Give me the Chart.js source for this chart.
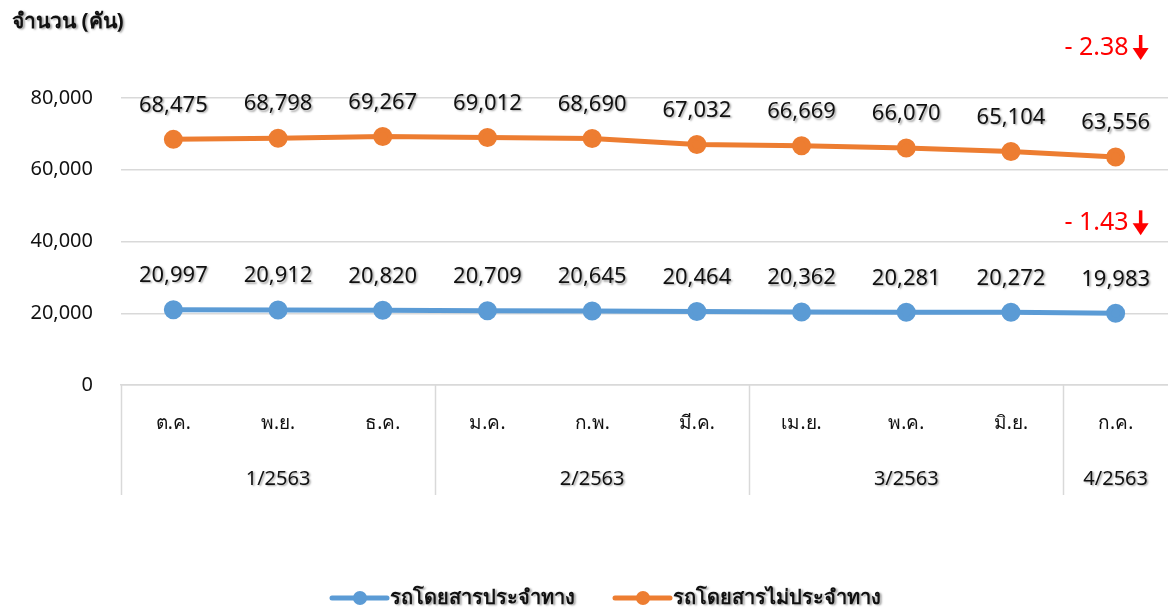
<!DOCTYPE html>
<html lang="th">
<head>
  <meta charset="UTF-8" />
  <title>จำนวนรถโดยสาร</title>
  <script src="https://cdn.jsdelivr.net/npm/chart.js"></script>
  <style>
    html, body { margin: 0; padding: 0; background: #fff; overflow: hidden; }
    #wrap { position: relative; width: 1168px; height: 612px; }
  </style>
</head>
<body>
  <div id="wrap"><canvas id="grafico"></canvas></div>

  <script>
    // datos
    const meses = ['ต.ค.', 'พ.ย.', 'ธ.ค.', 'ม.ค.', 'ก.พ.', 'มี.ค.', 'เม.ย.', 'พ.ค.', 'มิ.ย.', 'ก.ค.'];
    const trimestres = ['1/2563', '2/2563', '3/2563', '4/2563'];
    const mesesPorTrimestre = [3, 3, 3, 1];
    const series = ['รถโดยสารประจำทาง', 'รถโดยสารไม่ประจำทาง'];
    const regular = [20997, 20912, 20820, 20709, 20645, 20464, 20362, 20281, 20272, 19983];
    const noRegular = [68475, 68798, 69267, 69012, 68690, 67032, 66669, 66070, 65104, 63556];
    const cambios = ['- 1.43', '- 2.38'];
    const ejeY = { min: 0, max: 80000, paso: 20000 };
    const tituloY = 'จำนวน (คัน)';

    const fuente = "'Noto Sans', 'DejaVu Sans', sans-serif";
    const colores = ['#5b9bd5', '#ed7d31'];

    function conSombra(ctx) {
      ctx.shadowColor = 'rgba(0,0,0,0.35)';
      ctx.shadowOffsetX = 1.5;
      ctx.shadowOffsetY = 1.5;
      ctx.shadowBlur = 2;
    }

    const extras = {
      id: 'extras',
      afterDraw(chart) {
        const ctx = chart.ctx;
        const x = chart.scales.x;
        const area = chart.chartArea;

        // etiquetas de datos
        ctx.save();
        conSombra(ctx);
        ctx.fillStyle = '#111';
        ctx.font = '22px ' + fuente;
        ctx.textAlign = 'center';
        ctx.textBaseline = 'middle';
        chart.data.datasets.forEach((ds, i) => {
          const meta = chart.getDatasetMeta(i);
          meta.data.forEach((p, j) => {
            ctx.fillText(ds.data[j].toLocaleString('en-US'), p.x, p.y - 34);
          });
        });
        ctx.restore();

        // cambios en rojo
        ctx.save();
        ctx.fillStyle = '#ff0000';
        ctx.font = '25px ' + fuente;
        ctx.textAlign = 'right';
        ctx.textBaseline = 'middle';
        const desp = [-90, -109];
        chart.data.datasets.forEach((ds, i) => {
          const meta = chart.getDatasetMeta(i);
          const p = meta.data[meta.data.length - 1];
          const y = p.y + desp[i];
          ctx.fillText(cambios[i], p.x + 13, y);
          // flecha
          const ax = p.x + 25;
          ctx.strokeStyle = '#ff0000';
          ctx.lineWidth = 3.5;
          ctx.beginPath();
          ctx.moveTo(ax, y - 13);
          ctx.lineTo(ax, y + 6);
          ctx.stroke();
          ctx.beginPath();
          ctx.moveTo(ax - 8, y);
          ctx.lineTo(ax, y + 12);
          ctx.lineTo(ax + 8, y);
          ctx.closePath();
          ctx.fill();
        });
        ctx.restore();

        // grupos del eje x
        ctx.save();
        ctx.strokeStyle = '#d9d9d9';
        ctx.lineWidth = 1.5;
        const paso = (area.right - area.left) / meses.length;
        let inicio = 0;
        const bordes = [area.left];
        ctx.fillStyle = '#111';
        ctx.font = '20px ' + fuente;
        ctx.textAlign = 'center';
        ctx.textBaseline = 'middle';
        conSombra(ctx);
        mesesPorTrimestre.forEach((n, k) => {
          const a = x.getPixelForValue(inicio) - paso / 2;
          const b = x.getPixelForValue(inicio + n - 1) + paso / 2;
          ctx.fillText(trimestres[k], (a + b) / 2, area.bottom + 94);
          if (k < mesesPorTrimestre.length - 1) bordes.push(b);
          inicio += n;
        });
        ctx.shadowColor = 'transparent';
        bordes.forEach(bx => {
          ctx.beginPath();
          ctx.moveTo(Math.round(bx) + 0.5, area.bottom);
          ctx.lineTo(Math.round(bx) + 0.5, area.bottom + 110);
          ctx.stroke();
        });
        ctx.restore();

        // titulo del eje y
        ctx.save();
        conSombra(ctx);
        ctx.fillStyle = '#111';
        ctx.font = 'bold 21px ' + fuente;
        ctx.textAlign = 'left';
        ctx.textBaseline = 'middle';
        ctx.fillText(tituloY, 12, 22);
        ctx.restore();

        // leyenda
        ctx.save();
        const ly = 598;
        const posiciones = [332, 615];
        ctx.font = 'bold 20px ' + fuente;
        ctx.textBaseline = 'middle';
        ctx.textAlign = 'left';
        series.forEach((nombre, i) => {
          const lx = posiciones[i];
          ctx.strokeStyle = colores[i];
          ctx.fillStyle = colores[i];
          ctx.lineWidth = 5;
          ctx.lineCap = 'round';
          ctx.beginPath();
          ctx.moveTo(lx, ly);
          ctx.lineTo(lx + 55, ly);
          ctx.stroke();
          ctx.beginPath();
          ctx.arc(lx + 28, ly, 7, 0, Math.PI * 2);
          ctx.fill();
          ctx.fillStyle = '#111';
          conSombra(ctx);
          ctx.fillText(nombre, lx + 58, ly);
          ctx.shadowColor = 'transparent';
        });
        ctx.restore();
      }
    };

    const ctx = document.getElementById('grafico').getContext('2d');
    const grafico = new Chart(ctx, {
      type: 'line',
      data: {
        labels: meses,
        datasets: [
          {
            label: series[0],
            data: regular,
            borderColor: colores[0],
            backgroundColor: colores[0],
            borderWidth: 5,
            pointRadius: 7,
            pointHoverRadius: 7,
            tension: 0
          },
          {
            label: series[1],
            data: noRegular,
            borderColor: colores[1],
            backgroundColor: colores[1],
            borderWidth: 5,
            pointRadius: 7,
            pointHoverRadius: 7,
            tension: 0
          }
        ]
      },
      options: {
        responsive: true,
        maintainAspectRatio: false,
        animation: false,
        layout: {
          autoPadding: false,
          padding: { top: 98, right: -2, bottom: 107, left: 0 }
        },
        plugins: {
          legend: { display: false },
          tooltip: { enabled: false }
        },
        scales: {
          x: {
            offset: true,
            grid: { display: false },
            border: { color: '#d9d9d9', width: 1.5 },
            ticks: {
              color: '#111',
              font: { family: fuente, size: 19 },
              padding: 19
            },
            afterFit(scale) {
              scale.height = 120;
              scale.paddingLeft = 0;
              scale.paddingRight = 0;
            }
          },
          y: {
            min: ejeY.min,
            max: ejeY.max,
            ticks: {
              stepSize: ejeY.paso,
              color: '#111',
              font: { family: fuente, size: 20 },
              padding: 28,
              callback: v => v.toLocaleString('en-US')
            },
            grid: { color: '#d9d9d9', lineWidth: 1.5, drawTicks: false },
            border: { display: false },
            afterFit(scale) {
              scale.width = 121;
              scale.paddingTop = 0;
              scale.paddingBottom = 0;
            }
          }
        }
      },
      plugins: [extras]
    });
  </script>
</body>
</html>
